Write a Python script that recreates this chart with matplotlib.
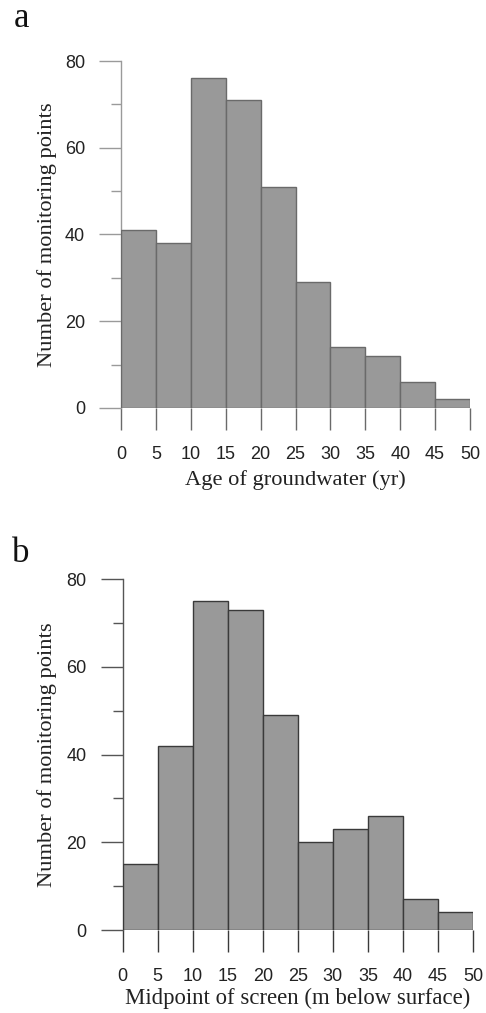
import matplotlib
matplotlib.use("Agg")
import matplotlib.pyplot as plt
import numpy as np

bin_left = [0, 5, 10, 15, 20, 25, 30, 35, 40, 45]
bin_width = 5
counts_age = [41, 38, 76, 71, 51, 29, 14, 12, 6, 2]
counts_screen = [15, 42, 75, 73, 49, 20, 23, 26, 7, 4]
xticks = [0, 5, 10, 15, 20, 25, 30, 35, 40, 45, 50]
yticks = [0, 20, 40, 60, 80]
yminor = [10, 30, 50, 70]
ylabel = "Number of monitoring points"
xlabel_a = "Age of groundwater (yr)"
xlabel_b = "Midpoint of screen (m below surface)"

W, H = 486, 1013
fig = plt.figure(figsize=(W / 100, H / 100), dpi=100)

serif = ["Liberation Serif", "DejaVu Serif"]
sans = ["Liberation Sans", "DejaVu Sans"]
PX = 0.72  # points per pixel at 100 dpi


def panel(rect, counts, xlabel, letter, letter_xy, edge, spine, xlab_y, ylab_x, xlab_fs):
    l, t, r, b = rect  # pixel coords
    ax = fig.add_axes([l / W, (H - b) / H, (r - l) / W, (b - t) / H])
    ax.bar(bin_left, counts, width=bin_width, align="edge",
           color="#999999", edgecolor=edge, linewidth=1.0, zorder=3)
    ax.set_xlim(0, 50)
    ax.set_ylim(0, 80)
    for s in ["top", "right", "bottom"]:
        ax.spines[s].set_visible(False)
    ax.spines["left"].set_color(spine)
    ax.spines["left"].set_linewidth(1.0)
    ax.set_xticks(xticks)
    ax.set_yticks(yticks)
    ax.set_yticks(yminor, minor=True)
    ax.tick_params(axis="y", which="major", length=22 * PX, width=1.0,
                   color=spine, pad=14 * PX, labelsize=13)
    ax.tick_params(axis="y", which="minor", length=10 * PX, width=1.0, color=spine)
    ax.tick_params(axis="x", which="major", length=22 * PX, width=1.0,
                   color=edge, pad=16 * PX, labelsize=13)
    for lab in ax.get_xticklabels() + ax.get_yticklabels():
        lab.set_family(sans)
        lab.set_color("#222222")
    fig.text(ylab_x / W, 1 - ((t + b) / 2) / H, ylabel, rotation=90,
             ha="center", va="center", family=serif, fontsize=16.2, color="#222222")
    fig.text(((l + r) / 2) / W, 1 - xlab_y / H, xlabel, ha="center", va="center",
             family=serif, fontsize=xlab_fs, color="#222222")
    fig.text(letter_xy[0] / W, 1 - letter_xy[1] / H, letter, ha="left", va="baseline",
             family=serif, fontsize=25, color="#111111")
    return ax


panel((121, 61, 470, 408), counts_age, xlabel_a, "a", (14, 27), "#6a6a6a", "#9a9a9a", 480, 47, 16.2)
panel((122.7, 579, 473, 930), counts_screen, xlabel_b, "b", (12, 562), "#3a3a3a", "#555555", 998, 47, 16.4)

fig.savefig("out.png", dpi=100, facecolor="white")
